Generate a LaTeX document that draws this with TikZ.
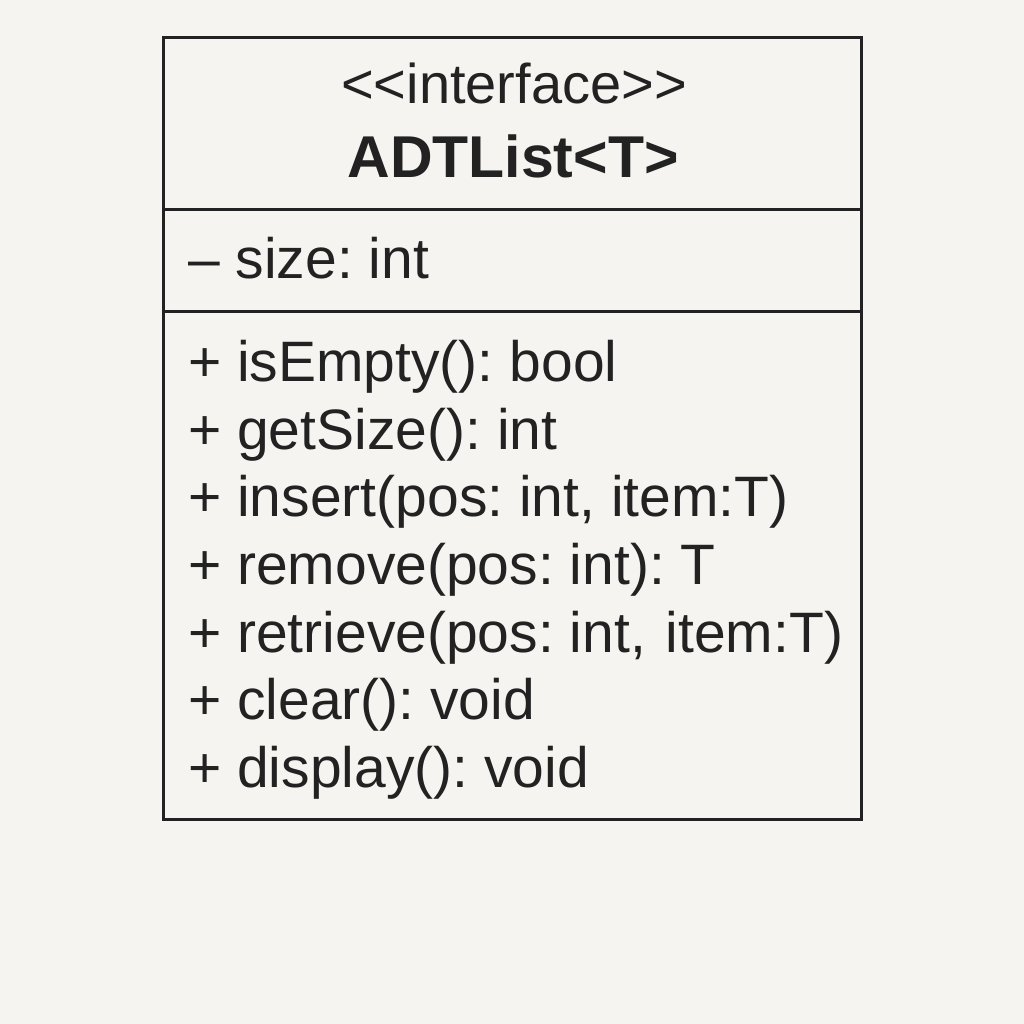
\documentclass[tikz,border=0pt]{standalone}
\usepackage{fontspec}
\setmainfont{Liberation Sans}[Ligatures=NoCommon]
\definecolor{paper}{HTML}{F5F4F0}
\definecolor{ink}{HTML}{222222}
\frenchspacing
\begin{document}
\begin{tikzpicture}[x=1pt,y=-1pt,
  umlbox/.style={draw=ink, line width=3pt, anchor=north west, inner sep=0pt,
    minimum width=698pt, minimum height=782pt},
  divider/.style={draw=ink, line width=3pt},
  member/.style={anchor=base west, inner sep=0pt, text=ink,
    font=\fontsize{57}{62}\selectfont},
  stereo/.style={anchor=base, inner sep=0pt, text=ink,
    font=\fontsize{56}{60}\selectfont},
  classname/.style={anchor=base, inner sep=0pt, text=ink,
    font=\fontsize{59}{63}\selectfont\bfseries}]
  % page and background
  \fill[paper] (0,0) rectangle (1024,1024);
  \useasboundingbox (0,0) rectangle (1024,1024);

  % class frame
  \node[umlbox] (box) at (162,36) {};
  \coordinate (d1) at (0,210);
  \coordinate (d2) at (0,311);
  \draw[divider] (box.west |- d1) -- (box.east |- d1);
  \draw[divider] (box.west |- d2) -- (box.east |- d2);

  % header
  \node[stereo] (stereotype) at (514,104) {{<}{<}interface{>}{>}};
  \node[classname] (name) at (513,178) {ADTList{<}T{>}};

  % attributes
  \node[member] (attr) at (188,278) {– size: int};

  % operations
  \node[member] (op1) at (188,381) {+ isEmpty(): bool};
  \node[member] (op2) at (188,449) {+ getSize(): int};
  \node[member] (op3) at (188,516) {+ insert(pos: int, item:T)};
  \node[member] (op4) at (188,584) {+ remove(pos: int): T};
  \node[member] (op5) at (188,652) {+ retrieve(pos: int,\hspace{4pt} item:T)};
  \node[member] (op6) at (188,719) {+ clear(): void};
  \node[member] (op7) at (188,787) {+ display(): void};
\end{tikzpicture}
\end{document}
